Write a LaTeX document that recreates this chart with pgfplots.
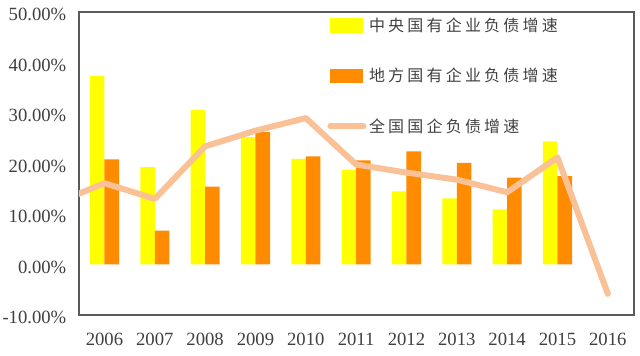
\documentclass[border=0pt]{standalone}
\usepackage{pgfplots}
\pgfplotsset{compat=1.18}
\usepackage{fontspec}
\setmainfont{Liberation Serif}
\newfontfamily\cjk[LetterSpace=20]{Noto Sans CJK SC}
\definecolor{cyel}{RGB}{255,255,0}
\definecolor{corg}{RGB}{255,140,0}
\definecolor{cline}{RGB}{250,192,150}
\definecolor{ctxt}{RGB}{64,64,64}
\definecolor{caxis}{RGB}{90,90,90}
\begin{document}
\begin{tikzpicture}
\begin{axis}[
  name=ax, at={(0,0)}, anchor=south west,
  scale only axis, width=416.25pt, height=227.25pt,
  xmin=-0.506, xmax=10.52, ymin=-10, ymax=50,
  ytick={-10,0,10,20,30,40,50},
  xtick={0,1,2,3,4,5,6,7,8,9,10},
  xticklabels={2006,2007,2008,2009,2010,2011,2012,2013,2014,2015,2016},
  yticklabel={\pgfmathprintnumber[fixed,fixed zerofill,precision=2]{\tick}\%},
  /pgf/number format/assume math mode=true,
  tick label style={font=\fontsize{14}{16}\selectfont, text=ctxt},
  yticklabel style={xshift=-6pt, yshift=-2pt},
  xticklabel style={yshift=-10pt},
  axis line style={draw=caxis, line width=1pt},
  major tick length=0pt,
  legend style={at={(0.447,0.99)}, anchor=north west, draw=none, fill=none,
    inner sep=0pt, row sep=22pt,
    font=\cjk\fontsize{12}{14}\selectfont, text=ctxt},
  legend cell align=left,
]
\addplot[ybar, bar width=10.9pt, bar shift=-5.45pt, fill=cyel, draw=none,
  legend image code/.code={\fill[cyel] (0pt,-5.6pt) rectangle (24.75pt,5.6pt);}]
  coordinates {(0,37.3) (1,19.3) (2,30.6) (3,25.2) (4,20.9) (5,18.8) (6,14.5) (7,13.1) (8,10.9) (9,24.4)};
\addlegendentry{中央国有企业负债增速}
\addplot[ybar, bar width=10.9pt, bar shift=5.45pt, fill=corg, draw=none,
  legend image code/.code={\fill[corg] (0pt,-5.6pt) rectangle (24.75pt,5.6pt);}]
  coordinates {(0,20.8) (1,6.7) (2,15.4) (3,26.2) (4,21.4) (5,20.6) (6,22.4) (7,20.1) (8,17.2) (9,17.5)};
\addlegendentry{地方国有企业负债增速}
\addplot[cline, line width=4.5pt, line join=round, line cap=round, mark=none,
  legend image code/.code={\draw[cline, line width=4.5pt, line cap=round] (0pt,0pt) -- (24.75pt,0pt);}]
  coordinates {(-1,12.0) (0,16.1) (1,13.0) (2,23.4) (3,26.5) (4,29.0) (5,19.8) (6,18.2) (7,16.8) (8,14.3) (9,21.2) (10,-5.8)};
\addlegendentry{全国国企负债增速}
\end{axis}
\pgfresetboundingbox
\path (-59.25pt,-30.75pt) rectangle (420.75pt,236.25pt);
\end{tikzpicture}
\end{document}
